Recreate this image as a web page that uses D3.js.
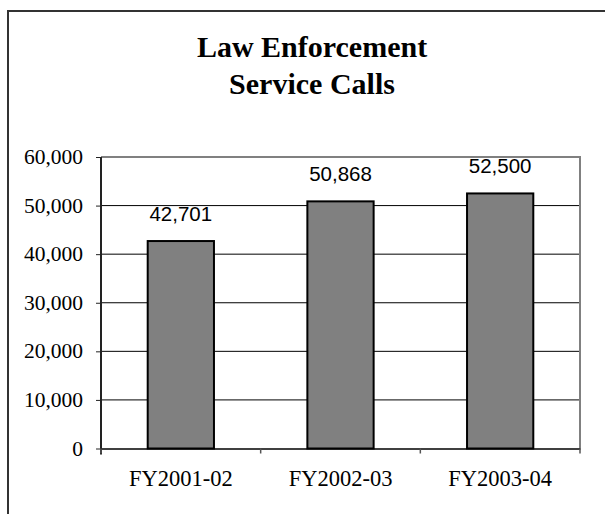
<!DOCTYPE html>
<html>
<head>
<meta charset="utf-8">
<script src="https://cdn.jsdelivr.net/npm/d3@7"></script>
<style>
  body { margin: 0; background: #fff; }
  svg { display: block; }
</style>
</head>
<body>
<svg width="605" height="515"></svg>
<script>
// chart values
const categories = ['FY2001-02', 'FY2002-03', 'FY2003-04'];
const calls = [42701, 50868, 52500];
const yTicks = [0, 10000, 20000, 30000, 40000, 50000, 60000];
const titleLines = ['Law Enforcement', 'Service Calls'];

function main(){
    var svg = d3.select('svg');

    // outer chart frame (runs off the right and bottom edges)
    svg.append('path')
        .attr('d', 'M8,514 L8,11 L620,11')
        .attr('fill', 'none')
        .attr('stroke', '#333')
        .attr('stroke-width', 2);

    var plot = {left: 101, right: 580, top: 157, bottom: 448.5};

    var x = d3.scaleBand()
        .domain(categories)
        .range([plot.left, plot.right])
        .paddingInner(0.585)
        .paddingOuter(0.2925);

    var y = d3.scaleLinear()
        .domain([0, 60000])
        .range([plot.bottom, plot.top]);

    // title
    var title = svg.append('text')
        .attr('x', 312)
        .attr('y', 57)
        .attr('text-anchor', 'middle')
        .style('font-family', '"Liberation Serif", "Times New Roman", serif')
        .style('font-weight', 'bold')
        .style('font-size', '30px');
    title.selectAll('tspan')
        .data(titleLines)
        .enter().append('tspan')
        .attr('x', 312)
        .attr('dy', (d, i) => i === 0 ? 0 : 37)
        .text(d => d);

    // gridlines
    svg.append('g')
        .selectAll('line')
        .data(yTicks.slice(1, -1))
        .enter().append('line')
        .attr('x1', plot.left)
        .attr('x2', plot.right)
        .attr('y1', d => y(d))
        .attr('y2', d => y(d))
        .attr('stroke', '#000')
        .attr('stroke-width', 1);

    // plot area border (top + right, gray)
    svg.append('path')
        .attr('d', 'M' + plot.left + ',' + y(60000) + ' L' + plot.right + ',' + y(60000) + ' L' + plot.right + ',' + plot.bottom)
        .attr('fill', 'none')
        .attr('stroke', '#808080')
        .attr('stroke-width', 2);

    // bars
    svg.append('g')
        .selectAll('rect')
        .data(calls)
        .enter().append('rect')
        .attr('x', (d, i) => x(categories[i]))
        .attr('y', d => y(d))
        .attr('width', x.bandwidth())
        .attr('height', d => y(0) - y(d))
        .attr('fill', '#808080')
        .attr('stroke', '#000')
        .attr('stroke-width', 2);

    // value labels
    svg.append('g')
        .selectAll('text')
        .data(calls)
        .enter().append('text')
        .attr('x', (d, i) => x(categories[i]) + x.bandwidth() / 2)
        .attr('y', d => y(d) - 20.5)
        .attr('text-anchor', 'middle')
        .style('font-family', '"Liberation Sans", Arial, sans-serif')
        .style('font-size', '20.5px')
        .text(d => d3.format(',')(d));

    // y axis
    var yAxis = svg.append('g')
        .attr('transform', 'translate(' + plot.left + ',0)')
        .call(d3.axisLeft(y).tickValues(yTicks).tickFormat(d3.format(',')).tickSize(5).tickPadding(13));
    yAxis.select('.domain')
        .attr('stroke', '#222')
        .attr('stroke-width', 2)
        .attr('d', 'M0,' + (plot.bottom + 6) + 'V' + plot.top);
    yAxis.selectAll('.tick line').attr('stroke', '#222');
    yAxis.selectAll('.tick text')
        .attr('dy', 6.5)
        .style('font-family', '"Liberation Serif", "Times New Roman", serif')
        .style('font-size', '21.5px')
        .attr('fill', '#000');

    // x axis
    var xAxis = svg.append('g')
        .attr('transform', 'translate(0,' + plot.bottom + ')')
        .call(d3.axisBottom(x).tickSize(0).tickPadding(0));
    xAxis.select('.domain')
        .attr('stroke', '#000')
        .attr('stroke-width', 1.5);
    xAxis.selectAll('.tick text')
        .attr('y', 37)
        .attr('dy', 0)
        .style('font-family', '"Liberation Serif", "Times New Roman", serif')
        .style('font-size', '22.5px')
        .attr('fill', '#000');

    // tick marks sit on the category boundaries, not the centres
    var bounds = categories.map((c, i) => plot.left + i * x.step());
    bounds.push(plot.right);
    xAxis.selectAll('.bound')
        .data(bounds)
        .enter().append('line')
        .attr('class', 'bound')
        .attr('x1', d => d)
        .attr('x2', d => d)
        .attr('y1', 0)
        .attr('y2', 5)
        .attr('stroke', '#555')
        .attr('stroke-width', 1.5);
}

main();
</script>
</body>
</html>
